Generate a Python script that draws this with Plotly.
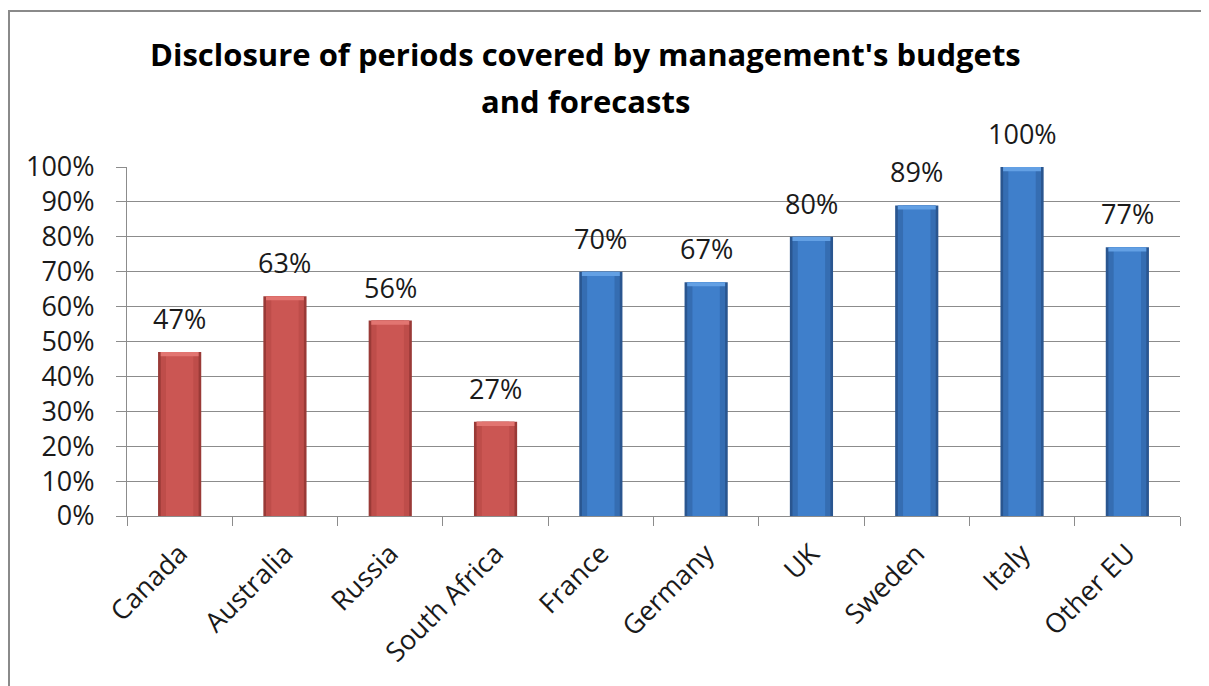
import plotly.graph_objects as go

categories = ["Canada", "Australia", "Russia", "South Africa", "France",
              "Germany", "UK", "Sweden", "Italy", "Other EU"]
values = [47, 63, 56, 27, 70, 67, 80, 89, 100, 77]
groups = ["red", "red", "red", "red", "blue", "blue", "blue", "blue", "blue", "blue"]
y_ticks = [0, 10, 20, 30, 40, 50, 60, 70, 80, 90, 100]

palette = {
    "red": ("#9A3A37", "#BE4D4A", "#CB5653", "#E27571"),
    "blue": ("#2A5690", "#356DB2", "#3F7FCB", "#63A0E4"),
}

OFF = 8  # page offset of the figure inside the browser page
W, H = 1209 - OFF - 1, 686 - OFF
L, T = 127 - OFF, 167 - OFF
pw, ph = 1180 - 127, 516 - 167
R = W - L - pw
B = H - T - ph

FONT = "Open Sans"

fig = go.Figure()
for layer, width in enumerate([0.41, 0.36, 0.26]):
    fig.add_trace(go.Bar(
        x=categories, y=values, width=width,
        marker=dict(color=[palette[g][layer] for g in groups], line=dict(width=0)),
        hoverinfo="skip", showlegend=False,
    ))
# top bevel highlight
cap = 1.2
fig.add_trace(go.Bar(
    x=categories, y=[cap] * len(values), base=[v - cap for v in values], width=0.36,
    marker=dict(color=[palette[g][3] for g in groups], line=dict(width=0)),
    hoverinfo="skip", showlegend=False,
))

for c, v in zip(categories, values):
    fig.add_annotation(x=c, y=v, text=f"{v}%", showarrow=False, yanchor="bottom",
                       yshift=13, font=dict(family=FONT, size=27, color="#1a1a1a"))

def px_x(px):
    return (px - OFF - L) / pw

def px_y(py):
    return (T + ph - (py - OFF)) / ph

title_lines = ["Disclosure of periods covered by management's budgets", "and forecasts"]
for line, ybase in zip(title_lines, [69, 116]):
    fig.add_annotation(xref="paper", yref="paper", x=px_x(585), y=px_y(ybase + 8),
                       text=f"<b>{line}</b>", showarrow=False, yanchor="bottom",
                       xanchor="center", font=dict(family=FONT, size=31, color="#000000"))

border = dict(color="#8a8a8a", width=2)
fig.add_shape(type="line", xref="paper", yref="paper",
              x0=px_x(OFF), x1=px_x(1260), y0=px_y(11), y1=px_y(11), line=border, layer="below")
fig.add_shape(type="line", xref="paper", yref="paper",
              x0=px_x(OFF + 1), x1=px_x(OFF + 1), y0=px_y(10), y1=px_y(760), line=border, layer="below")

fig.update_layout(
    width=W, height=H, barmode="overlay",
    margin=dict(l=L, r=R, t=T, b=B, autoexpand=False),
    paper_bgcolor="white", plot_bgcolor="white",
    font=dict(family=FONT, size=25, color="#1a1a1a"),
    showlegend=False,
)
fig.update_xaxes(type="category", range=[-0.5, 9.5], tickangle=-45,
                 tickson="boundaries", ticks="outside", ticklen=9, tickcolor="#8c8c8c",
                 showline=True, linecolor="#8c8c8c", linewidth=1, showgrid=False,
                 ticklabelstandoff=10,
                 tickfont=dict(family=FONT, size=27, color="#1a1a1a"))
fig.update_yaxes(range=[0, 100], tickvals=y_ticks, ticktext=[f"{t}%" for t in y_ticks],
                 ticks="outside", ticklen=10, tickcolor="#8c8c8c",
                 showline=True, linecolor="#8c8c8c", linewidth=1,
                 showgrid=True, gridcolor="#8c8c8c", gridwidth=1, zeroline=False,
                 ticklabelstandoff=16,
                 tickfont=dict(family=FONT, size=27, color="#1a1a1a"))

fig.write_html("out.html")
